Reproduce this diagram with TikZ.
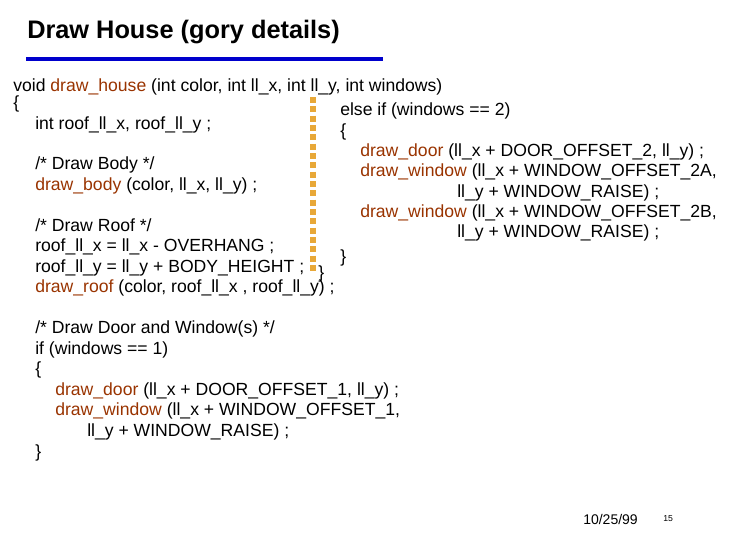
\documentclass[tikz,border=0pt]{standalone}
\usepackage{fontspec}
\setmainfont{Liberation Sans}
\definecolor{fn}{HTML}{993300}
\definecolor{dots}{HTML}{E8A838}
\definecolor{rule}{HTML}{0000CC}
\begin{document}
\begin{tikzpicture}[x=0.75pt,y=-0.75pt,
  code/.style={anchor=west,inner sep=0pt,font=\fontsize{13.2}{15}\selectfont,text height=10pt,text depth=3pt}]
\useasboundingbox (0,0) rectangle (730,547);
\node[anchor=west,inner sep=0pt,font=\bfseries\fontsize{19}{21}\selectfont] (title) at (27,32) {Draw House (gory details)};
\draw[rule,line width=3pt] (26,59) -- (383,59);
\draw[dots,line width=4pt,dash pattern=on 4.5pt off 2.5pt] (313,97) -- (313,274);
\newcommand{\fnc}[1]{\textcolor{fn}{#1}}
\node[code] (l1) at (13,87) {void \fnc{draw\_house} (int color, int ll\_x, int ll\_y, int windows)};
\node[code] (l2) at (13,104) {\{};
\node[code] (l3) at (35,125) {int roof\_ll\_x, roof\_ll\_y ;};
\node[code] (l4) at (35,165) {/* Draw Body */};
\node[code] (l5) at (35,186) {\fnc{draw\_body} (color, ll\_x, ll\_y) ;};
\node[code] (l6) at (35,227) {/* Draw Roof */};
\node[code] (l7) at (35,247) {roof\_ll\_x = ll\_x - OVERHANG ;};
\node[code] (l8) at (35,268) {roof\_ll\_y = ll\_y + BODY\_HEIGHT ;};
\node[code] (l9) at (35,288) {\fnc{draw\_roof} (color, roof\_ll\_x , roof\_ll\_y) ;};
\node[code] (l10) at (35,329) {/* Draw Door and Window(s) */};
\node[code] (l11) at (35,350) {if (windows == 1)};
\node[code] (l12) at (35,370) {\{};
\node[code] (l13) at (55,391) {\fnc{draw\_door} (ll\_x + DOOR\_OFFSET\_1, ll\_y) ;};
\node[code] (l14) at (55,411) {\fnc{draw\_window} (ll\_x + WINDOW\_OFFSET\_1,};
\node[code] (l15) at (87,432) {ll\_y + WINDOW\_RAISE) ;};
\node[code] (l16) at (35,453) {\}};
\node[code] (r1) at (340,111) {else if (windows == 2)};
\node[code] (r2) at (340,132) {\{};
\node[code] (r3) at (360,152) {\fnc{draw\_door} (ll\_x + DOOR\_OFFSET\_2, ll\_y) ;};
\node[code] (r4) at (360,172) {\fnc{draw\_window} (ll\_x + WINDOW\_OFFSET\_2A,};
\node[code] (r5) at (457,193) {ll\_y + WINDOW\_RAISE) ;};
\node[code] (r6) at (360,213) {\fnc{draw\_window} (ll\_x + WINDOW\_OFFSET\_2B,};
\node[code] (r7) at (457,233) {ll\_y + WINDOW\_RAISE) ;};
\node[code] (r8) at (340,258) {\}};
\node[code] (r9) at (318,274) {\}};
\node[anchor=west,inner sep=0pt,font=\fontsize{10.5}{12}\selectfont] (date) at (583,519) {10/25/99};
\node[anchor=west,inner sep=0pt,font=\fontsize{6.5}{7}\selectfont] (page) at (663,519) {15};
\end{tikzpicture}
\end{document}
